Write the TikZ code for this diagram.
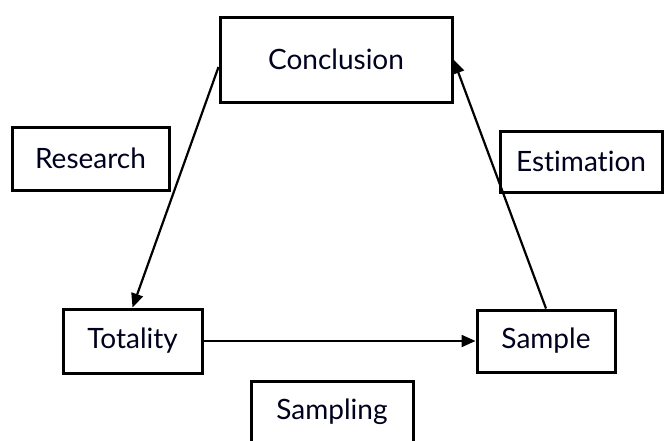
\documentclass[tikz,border=0pt]{standalone}
\usepackage{fontspec}
\setmainfont[Ligatures={NoCommon}]{Lato}
\usetikzlibrary{arrows.meta,calc}
\begin{document}
\begin{tikzpicture}[x=1pt,y=-1pt,
  box/.style={draw=black,line width=3pt,rectangle,inner sep=0pt,
    font=\fontsize{28}{32}\selectfont,text=black!88!blue},
  link/.style={line width=2.2pt,-{Triangle[length=14pt,width=12pt]}}]
  \clip (0,0) rectangle (664,440);
  \fill[white] (0,0) rectangle (664,440);

  % stages of the cycle
  \node[box,minimum width=232pt,minimum height=85pt] (concl) at (336,59.5) {Conclusion};
  \node[box,minimum width=139pt,minimum height=64pt] (tot) at (132.5,341) {Totality};
  \node[box,minimum width=138pt,minimum height=62pt] (samp) at (546,341) {Sample};

  % labels of the transitions
  \node[box,minimum width=157pt,minimum height=63pt] (res) at (90.5,158.5) {Research};
  \node[box,minimum width=162pt,minimum height=61pt] (est) at (581,161.5) {Estimation};
  \node[box,minimum width=162pt,minimum height=62pt] (smpl) at (332,412) {Sampling};

  % connectors
  \draw[link] ($(concl.west)+(0,7.5)$) -- (tot.north);
  \draw[link] (tot.east) -- (samp.west);
  \draw[link] (samp.north) -- (concl.east);
\end{tikzpicture}
\end{document}
